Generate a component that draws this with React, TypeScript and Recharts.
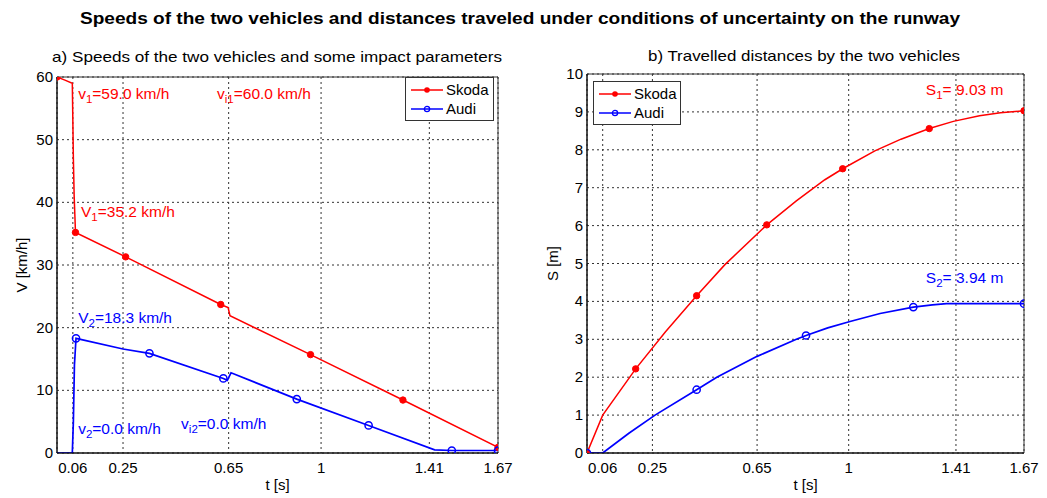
import React from 'react';
import { LineChart, Line, XAxis, YAxis, CartesianGrid, Legend, ReferenceArea, ReferenceDot } from 'recharts';

const FONT = '"Liberation Sans", Arial, sans-serif';
const RED = '#ff0000';
const BLUE = '#0000ff';

// axis ticks
const timeTicks = [0.06, 0.25, 0.65, 1, 1.41, 1.67];
const speedTicks = [0, 10, 20, 30, 40, 50, 60];
const distTicks = [0, 1, 2, 3, 4, 5, 6, 7, 8, 9, 10];
const seriesNames = ['Skoda', 'Audi'];

// a) speeds [km/h]
const skodaSpeedT = [0, 0.03, 0.058, 0.06, 0.062, 0.065, 0.07, 0.26, 0.62, 0.648, 0.655, 0.96, 1.31, 1.67];
const skodaSpeedV = [60, 59.5, 59.0, 53, 47, 41, 35.2, 31.3, 23.7, 23.2, 21.9, 15.7, 8.45, 0.9];
const skodaSpeedMarks = [0, 6, 7, 8, 11, 12, 13];

const audiSpeedT = [0, 0.058, 0.062, 0.066, 0.072, 0.25, 0.35, 0.63, 0.645, 0.659, 0.908, 1.18, 1.43, 1.495, 1.67];
const audiSpeedV = [0, 0, 5, 14, 18.3, 16.6, 15.9, 11.9, 11.6, 12.8, 8.6, 4.4, 0.5, 0.4, 0.4];
const audiSpeedMarks = [4, 6, 7, 10, 11, 13, 14];

// b) distances [m]
const skodaDistT = [0, 0.06, 0.186, 0.3, 0.419, 0.527, 0.687, 0.8, 0.909, 0.977, 1.1, 1.2, 1.308, 1.4, 1.5, 1.58, 1.67];
const skodaDistS = [0, 1.0, 2.22, 3.2, 4.15, 4.97, 6.02, 6.65, 7.21, 7.5, 7.97, 8.28, 8.56, 8.75, 8.9, 8.98, 9.03];
const skodaDistMarks = [0, 2, 4, 6, 9, 12, 16];

const audiDistT = [0, 0.06, 0.16, 0.26, 0.419, 0.496, 0.65, 0.8, 0.837, 0.92, 1.005, 1.12, 1.247, 1.32, 1.374, 1.67];
const audiDistS = [0, 0, 0.52, 1.0, 1.67, 2.0, 2.55, 3.0, 3.1, 3.3, 3.47, 3.68, 3.85, 3.91, 3.94, 3.94];
const audiDistMarks = [0, 4, 8, 12, 15];

// text notes, anchored in data units
const speedNotes = [
  { t: 0.08, y: 56.5, base: 'v', sub: '1', rest: '=59.0 km/h', color: RED },
  { t: 0.606, y: 56.5, base: 'v', sub: 'i1', rest: '=60.0 km/h', color: RED },
  { t: 0.091, y: 37.6, base: 'V', sub: '1', rest: '=35.2 km/h', color: RED },
  { t: 0.08, y: 20.8, base: 'V', sub: '2', rest: '=18.3 km/h', color: BLUE },
  { t: 0.08, y: 3.0, base: 'v', sub: '2', rest: '=0.0 km/h', color: BLUE },
  { t: 0.47, y: 3.8, base: 'v', sub: 'i2', rest: '=0.0 km/h', color: BLUE },
];
const distNotes = [
  { t: 1.295, y: 9.45, base: 'S', sub: '1', rest: '= 9.03 m', color: RED },
  { t: 1.295, y: 4.49, base: 'S', sub: '2', rest: '= 3.94 m', color: BLUE },
];

const toRows = (t: number[], y: number[]) => t.map((x, i) => ({ t: x, y: y[i] }));

const makeDot = (marks: number[], color: string, filled: boolean) => (props: any) => {
  const { cx, cy, index } = props;
  if (!marks.includes(index) || cx == null || cy == null) return <g key={`n${index}`} />;
  return filled ? (
    <circle key={`d${index}`} cx={cx} cy={cy} r={3.2} fill={color} stroke={color} strokeWidth={1} />
  ) : (
    <circle key={`d${index}`} cx={cx} cy={cy} r={3.6} fill="none" stroke={color} strokeWidth={1.5} />
  );
};

const XTick = (props: any) => (
  <text x={props.x} y={props.y} dy={12} textAnchor="middle" fontSize={15} fontFamily={FONT} fill="#000">
    {props.payload.value}
  </text>
);

const YTick = (props: any) => (
  <text x={props.x + 4} y={props.y} dy={5} textAnchor="end" fontSize={15} fontFamily={FONT} fill="#000">
    {props.payload.value}
  </text>
);

const YTitle = (props: any) => {
  const vb = props.viewBox || { x: 0, y: 0, width: 0, height: 0 };
  const x = vb.x + props.off;
  const y = vb.y + vb.height / 2;
  return (
    <text x={x} y={y} transform={`rotate(-90 ${x} ${y})`} textAnchor="middle" dominantBaseline="central" fontSize={15} fontFamily={FONT} fill="#000">
      {props.text}
    </text>
  );
};

const XTitle = (props: any) => {
  const vb = props.viewBox || { x: 0, y: 0, width: 0, height: 0 };
  return (
    <text x={vb.x + vb.width / 2} y={vb.y + 37} textAnchor="middle" fontSize={15} fontFamily={FONT} fill="#000">
      {props.text}
    </text>
  );
};

const Note = (props: any) => {
  const vb = props.viewBox || { x: props.x, y: props.y };
  const n = props.note;
  return (
    <text x={vb.x} y={vb.y} fill={n.color} fontSize={15.5} fontFamily={FONT}>
      <tspan>{n.base}</tspan>
      <tspan dy={4} fontSize={11.5}>{n.sub}</tspan>
      <tspan dy={-4}>{n.rest}</tspan>
    </text>
  );
};

const LegendBox = (props: any) => {
  const items = [...(props.payload || [])].sort(
    (a: any, b: any) => seriesNames.indexOf(a.value) - seriesNames.indexOf(b.value)
  );
  return (
    <div style={{ border: '1px solid #333', background: '#fff', height: 44, boxSizing: 'border-box', padding: '2px 0 0 4px', fontFamily: FONT, fontSize: 15, color: '#000', lineHeight: '19px' }}>
      {items.map((p: any, i: number) => (
        <div key={i} style={{ display: 'flex', alignItems: 'center', height: 19 }}>
          <svg width={34} height={10} style={{ marginRight: 2 }}>
            <line x1={1} x2={33} y1={5} y2={5} stroke={p.color} strokeWidth={1.5} />
            {p.value === 'Skoda' ? (
              <circle cx={17} cy={5} r={2.8} fill={p.color} />
            ) : (
              <circle cx={17} cy={5} r={2.6} fill="none" stroke={p.color} strokeWidth={1.3} />
            )}
          </svg>
          <span>{p.value}</span>
        </div>
      ))}
    </div>
  );
};

export default function App() {
  return (
    <div style={{ position: 'absolute', left: 0, top: 0, width: 1047, height: 498, background: '#fff', fontFamily: FONT }}>
      <svg width={1047} height={70} style={{ position: 'absolute', left: 0, top: 0 }}>
        <text x={520} y={24} textAnchor="middle" fontWeight="bold" fontSize={16} fontFamily={FONT} textLength={880} lengthAdjust="spacingAndGlyphs">
          Speeds of the two vehicles and distances traveled under conditions of uncertainty on the runway
        </text>
        <text x={277} y={62} textAnchor="middle" fontSize={15} fontFamily={FONT} textLength={450} lengthAdjust="spacingAndGlyphs">
          a) Speeds of the two vehicles and some impact parameters
        </text>
        <text x={804} y={61} textAnchor="middle" fontSize={15} fontFamily={FONT} textLength={312} lengthAdjust="spacingAndGlyphs">
          b) Travelled distances by the two vehicles
        </text>
      </svg>

      {/* a) speeds */}
      <div style={{ position: 'absolute', left: 0, top: 0 }}>
        <LineChart width={520} height={498} margin={{ top: 77, right: 22, bottom: 15, left: 0 }}>
          <CartesianGrid stroke="#333" strokeDasharray="2 3" />
          <XAxis dataKey="t" type="number" domain={[0, 1.67]} ticks={timeTicks} interval={0} allowDataOverflow
            height={30} axisLine={{ stroke: '#000' }} tickLine={false} tick={<XTick />}
            label={<XTitle text="t [s]" />} />
          <YAxis type="number" domain={[0, 60]} ticks={speedTicks} interval={0} allowDataOverflow
            width={57} axisLine={{ stroke: '#000' }} tickLine={false} tick={<YTick />}
            label={<YTitle text="V [km/h]" off={21} />} />
          <ReferenceArea x1={0} x2={1.67} y1={0} y2={60} fill="none" stroke="#333" strokeWidth={1} ifOverflow="visible" />
          <Line name="Skoda" data={toRows(skodaSpeedT, skodaSpeedV)} dataKey="y" type="linear" stroke={RED} strokeWidth={1.5}
            dot={makeDot(skodaSpeedMarks, RED, true)} activeDot={false} isAnimationActive={false} />
          <Line name="Audi" data={toRows(audiSpeedT, audiSpeedV)} dataKey="y" type="linear" stroke={BLUE} strokeWidth={1.7}
            dot={makeDot(audiSpeedMarks, BLUE, false)} activeDot={false} isAnimationActive={false} />
          {speedNotes.map((n, i) => (
            <ReferenceDot key={i} x={n.t} y={n.y} r={0} fill="none" stroke="none" label={<Note note={n} />} />
          ))}
          <Legend layout="vertical" align="center" verticalAlign="middle" content={<LegendBox />}
            wrapperStyle={{ top: 77, left: 405, width: 89 }} />
        </LineChart>
      </div>

      {/* b) distances */}
      <div style={{ position: 'absolute', left: 520, top: 0 }}>
        <LineChart width={527} height={498} margin={{ top: 74, right: 23, bottom: 15, left: 0 }}>
          <CartesianGrid stroke="#333" strokeDasharray="2 3" />
          <XAxis dataKey="t" type="number" domain={[0, 1.67]} ticks={timeTicks} interval={0} allowDataOverflow
            height={30} axisLine={{ stroke: '#000' }} tickLine={false} tick={<XTick />}
            label={<XTitle text="t [s]" />} />
          <YAxis type="number" domain={[0, 10]} ticks={distTicks} interval={0} allowDataOverflow
            width={67} axisLine={{ stroke: '#000' }} tickLine={false} tick={<YTick />}
            label={<YTitle text="S [m]" off={32} />} />
          <ReferenceArea x1={0} x2={1.67} y1={0} y2={10} fill="none" stroke="#333" strokeWidth={1} ifOverflow="visible" />
          <Line name="Skoda" data={toRows(skodaDistT, skodaDistS)} dataKey="y" type="linear" stroke={RED} strokeWidth={1.5}
            dot={makeDot(skodaDistMarks, RED, true)} activeDot={false} isAnimationActive={false} />
          <Line name="Audi" data={toRows(audiDistT, audiDistS)} dataKey="y" type="linear" stroke={BLUE} strokeWidth={1.7}
            dot={makeDot(audiDistMarks, BLUE, false)} activeDot={false} isAnimationActive={false} />
          {distNotes.map((n, i) => (
            <ReferenceDot key={i} x={n.t} y={n.y} r={0} fill="none" stroke="none" label={<Note note={n} />} />
          ))}
          <Legend layout="vertical" align="center" verticalAlign="middle" content={<LegendBox />}
            wrapperStyle={{ top: 81, left: 73, width: 88 }} />
        </LineChart>
      </div>
    </div>
  );
}
